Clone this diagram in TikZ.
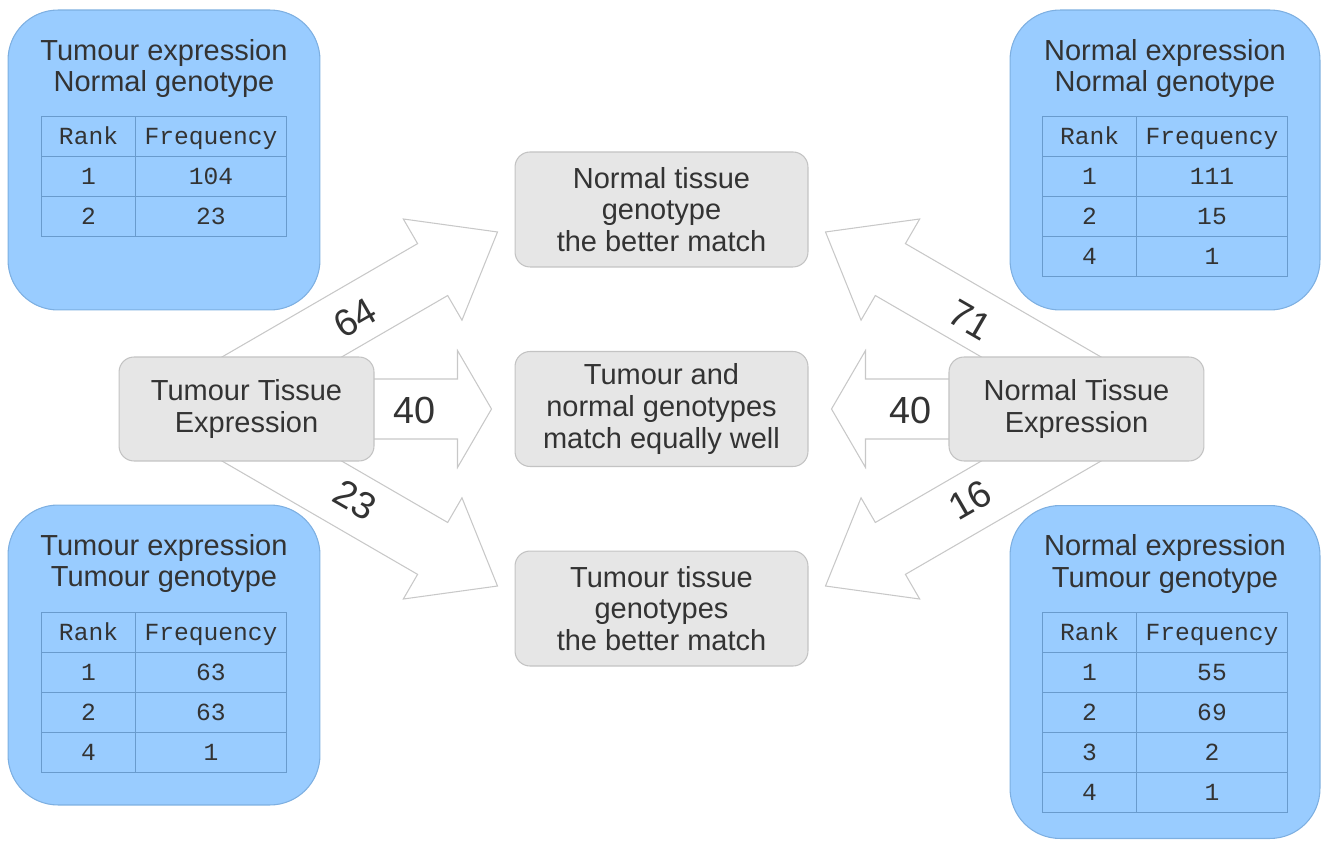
\documentclass[tikz,border=0pt]{standalone}
\usepackage{fontspec}
\setmainfont{Liberation Sans}
\newfontfamily\tabfont{Liberation Mono}
\usetikzlibrary{positioning,calc,matrix,backgrounds}

\definecolor{boxblue}{RGB}{153,204,255}
\definecolor{boxblueline}{RGB}{125,175,225}
\definecolor{tabline}{RGB}{105,155,205}
\definecolor{boxgray}{RGB}{230,230,230}
\definecolor{boxgrayline}{RGB}{195,195,195}
\definecolor{arrowline}{RGB}{200,200,200}
\definecolor{txt}{RGB}{51,51,51}

\newcommand\headlen{1.5cm}

\tikzset{
  bluebox/.style={draw=boxblueline, fill=boxblue, rounded corners=1cm, line width=0.6pt},
  graybox/.style={draw=boxgrayline, fill=boxgray, rounded corners=0.3cm, line width=0.6pt,
    text=txt, align=center, font=\fontsize{16.5}{18}\selectfont, minimum height=2.3cm},
  heading/.style={text=txt, align=center, font=\fontsize{16.5}{18}\selectfont},
  count/.style={text=txt, font=\fontsize{21.5}{24}\selectfont},
  freqtab/.style={matrix of nodes, inner sep=0pt, column sep=-0.6pt, row sep=-0.6pt,
    nodes={draw=tabline, line width=0.6pt, text=txt, font=\tabfont\fontsize{14}{16}\selectfont,
      minimum height=0.8cm, text height=9pt, text depth=0pt, inner sep=0pt, anchor=center},
    column 1/.style={nodes={minimum width=1.88cm}},
    column 2/.style={nodes={minimum width=3.02cm}}},
  blockarrow/.style={draw=arrowline, fill=white, line width=0.6pt,
    to path={($(\tikztotarget)!\headlen!(\tikztostart)$) coordinate (ah)
      (\tikztotarget) -- ($(ah)!1.17cm!90:(\tikztotarget)$) -- ($(ah)!0.6cm!90:(\tikztotarget)$)
      -- ($(\tikztostart)!0.6cm!90:(\tikztotarget)$) -- ($(\tikztostart)!0.6cm!-90:(\tikztotarget)$)
      -- ($(ah)!0.6cm!-90:(\tikztotarget)$) -- ($(ah)!1.17cm!-90:(\tikztotarget)$) -- cycle}},
  short head/.code={\renewcommand\headlen{0.68cm}}
}

\begin{document}
\begin{tikzpicture}[x=0.02cm,y=-0.02cm]
\useasboundingbox (0,0) rectangle (1322,841);

% result boxes
\node[bluebox, minimum width=6.24cm, minimum height=6cm] (tn) at (164,160) {};
\node[bluebox, minimum width=6.24cm, minimum height=6cm] (tt) at (164,655) {};
\node[bluebox, minimum width=6.2cm, minimum height=6cm] (nn) at (1165,160) {};
\node[bluebox, minimum width=6.2cm, minimum height=6.66cm] (nt) at (1165,672) {};

\node[heading] (tnhead) at ([yshift=-1.18cm]tn.north) {Tumour expression\\Normal genotype};
\node[heading] (tthead) at ([yshift=-1.18cm]tt.north) {Tumour expression\\Tumour genotype};
\node[heading] (nnhead) at ([yshift=-1.18cm]nn.north) {Normal expression\\Normal genotype};
\node[heading] (nthead) at ([yshift=-1.18cm]nt.north) {Normal expression\\Tumour genotype};

\matrix[freqtab, anchor=north] (tntab) at ([yshift=-2.12cm]tn.north) {
Rank & Frequency \\
1 & 104 \\
2 & 23 \\
};
\matrix[freqtab, anchor=north] (tttab) at ([yshift=-2.14cm]tt.north) {
Rank & Frequency \\
1 & 63 \\
2 & 63 \\
4 & 1 \\
};
\matrix[freqtab, anchor=north] (nntab) at ([yshift=-2.12cm]nn.north) {
Rank & Frequency \\
1 & 111 \\
2 & 15 \\
4 & 1 \\
};
\matrix[freqtab, anchor=north] (nttab) at ([yshift=-2.14cm]nt.north) {
Rank & Frequency \\
1 & 55 \\
2 & 69 \\
3 & 2 \\
4 & 1 \\
};

% outcomes and sources
\node[graybox, minimum width=5.86cm] (eq) at (661.5,409) {Tumour and\\normal genotypes\\match equally well};
\node[graybox, minimum width=5.86cm, above=1.67cm of eq] (ntg) {Normal tissue\\genotype\\the better match};
\node[graybox, minimum width=5.86cm, below=1.67cm of eq] (ttg) {Tumour tissue\\genotypes\\the better match};
\node[graybox, minimum width=5.1cm, minimum height=2.08cm, left=2.8cm of eq] (tte) {Tumour Tissue\\Expression};
\node[graybox, minimum width=5.1cm, minimum height=2.08cm, right=2.8cm of eq] (nte) {Normal Tissue\\Expression};

\coordinate (tipA) at ([xshift=-0.34cm,yshift=-0.45cm]ntg.west);
\coordinate (tipB) at ([xshift=-0.46cm]eq.west);
\coordinate (tipC) at ([xshift=-0.34cm,yshift=0.45cm]ttg.west);
\coordinate (tipD) at ([xshift=0.34cm,yshift=-0.45cm]ntg.east);
\coordinate (tipE) at ([xshift=0.46cm]eq.east);
\coordinate (tipF) at ([xshift=0.34cm,yshift=0.45cm]ttg.east);
\coordinate (tailA) at ([xshift=-0.71cm,yshift=0.22cm]tte.center);
\coordinate (tailC) at ([xshift=-0.71cm,yshift=-0.22cm]tte.center);
\coordinate (tailD) at ([xshift=0.71cm,yshift=0.22cm]nte.center);
\coordinate (tailF) at ([xshift=0.71cm,yshift=-0.22cm]nte.center);

\begin{scope}[on background layer]
\draw[blockarrow] (tailA) to (tipA);
\draw[blockarrow, short head] (tte.center) to (tipB);
\draw[blockarrow] (tailC) to (tipC);
\draw[blockarrow] (tailD) to (tipD);
\draw[blockarrow, short head] (nte.center) to (tipE);
\draw[blockarrow] (tailF) to (tipF);
\end{scope}

% counts
\node[count, rotate=30] (n64) at (355,318) {64};
\node[count] (n40a) at (415,410) {40};
\node[count, rotate=-30] (n23) at (355,500) {23};
\node[count, rotate=-30] (n71) at (970,320) {71};
\node[count] (n40b) at (910,410) {40};
\node[count, rotate=30] (n16) at (970,500) {16};

\end{tikzpicture}
\end{document}
